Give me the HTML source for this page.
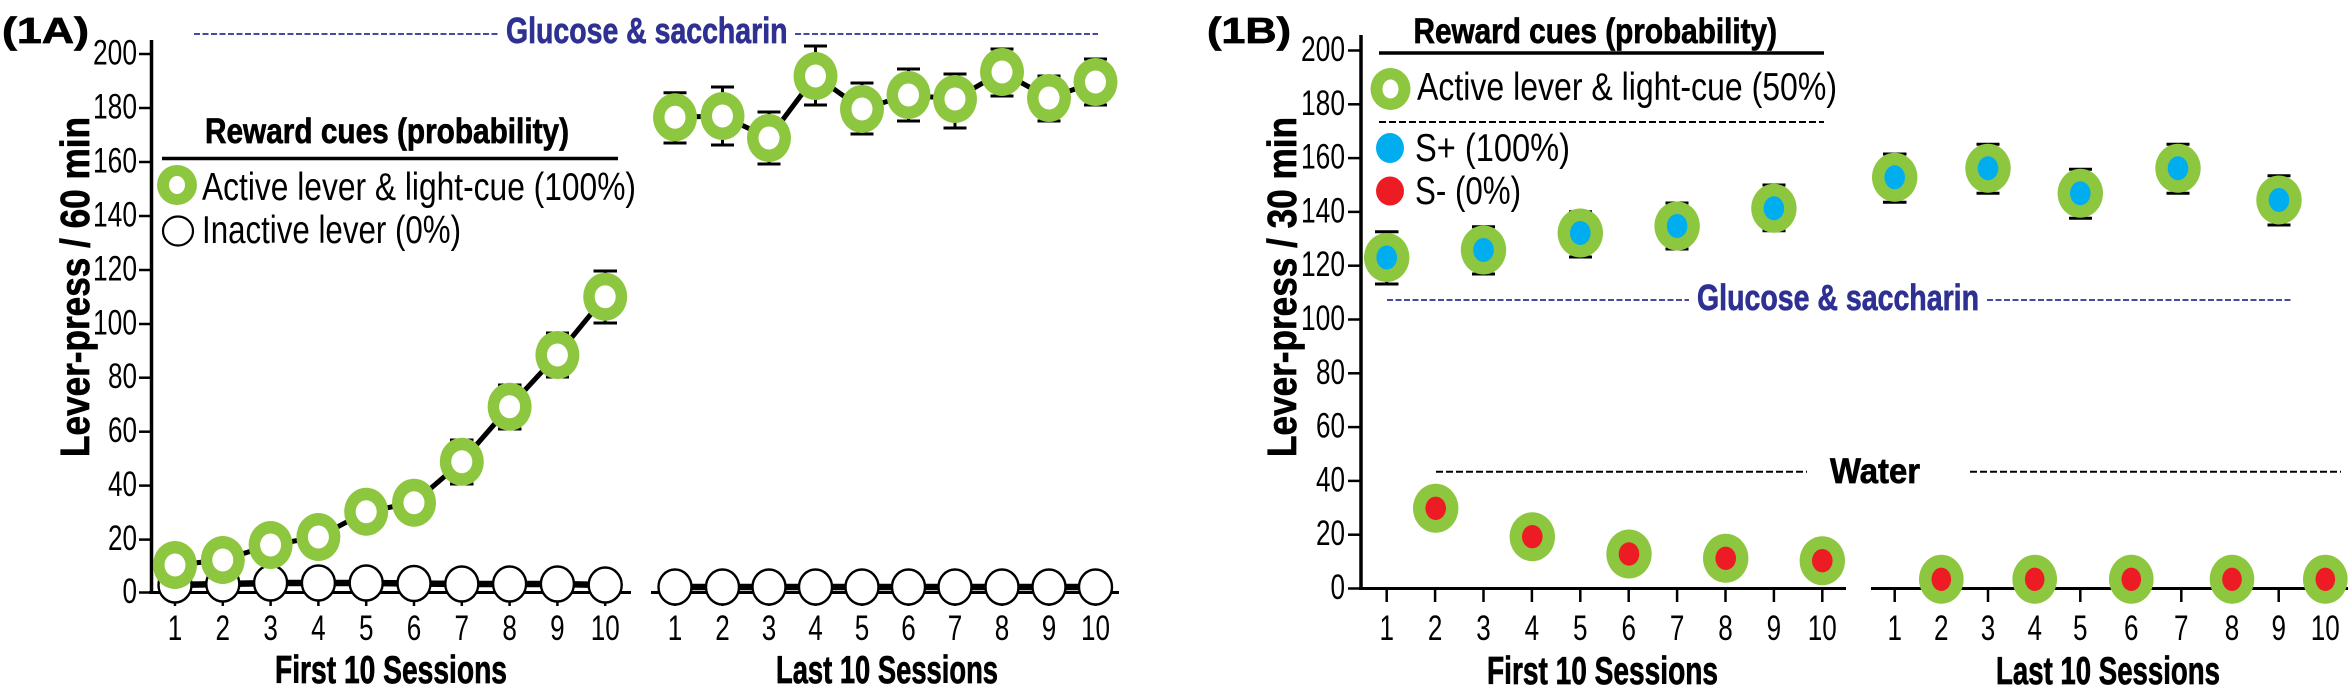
<!DOCTYPE html>
<html><head><meta charset="utf-8"><style>
html,body{margin:0;padding:0;background:#fff;}
svg{display:block;}
text{font-family:"Liberation Sans",sans-serif;fill:#000;}
.b{font-weight:bold;stroke:#000;stroke-width:0.7px;}
.n{font-weight:bold;fill:#2e3192;stroke:#2e3192;stroke-width:0.7px;}
</style></head><body>
<svg width="2348" height="695" viewBox="0 0 2348 695" xmlns="http://www.w3.org/2000/svg">
<rect width="2348" height="695" fill="#fff"/>

<!-- ================= 1A ================= -->
<text class="b" x="2" y="43" font-size="36" textLength="87" lengthAdjust="spacingAndGlyphs">(1A)</text>

<!-- Glucose header -->
<line x1="194" y1="34" x2="499" y2="34" stroke="#2e3192" stroke-width="1.8" stroke-dasharray="6 2.5"/>
<text class="n" x="506" y="43" font-size="36" textLength="281.5" lengthAdjust="spacingAndGlyphs">Glucose &amp; saccharin</text>
<line x1="795" y1="34" x2="1098" y2="34" stroke="#2e3192" stroke-width="1.8" stroke-dasharray="6 2.5"/>

<!-- y axis label -->
<text class="b" font-size="41" text-anchor="middle" transform="translate(89,287) rotate(-90)" textLength="340" lengthAdjust="spacingAndGlyphs">Lever-press / 60 min</text>

<!-- axes -->
<line x1="151.5" y1="40" x2="151.5" y2="594" stroke="#000" stroke-width="3.5"/>
<line x1="149" y1="592.5" x2="631" y2="592.5" stroke="#000" stroke-width="3"/>
<line x1="651" y1="592.5" x2="1119" y2="592.5" stroke="#000" stroke-width="3"/>

<!-- y ticks -->
<g stroke="#000" stroke-width="2.5">
<line x1="139" y1="54" x2="151" y2="54"/>
<line x1="139" y1="108" x2="151" y2="108"/>
<line x1="139" y1="162" x2="151" y2="162"/>
<line x1="139" y1="216" x2="151" y2="216"/>
<line x1="139" y1="270" x2="151" y2="270"/>
<line x1="139" y1="324" x2="151" y2="324"/>
<line x1="139" y1="377.7" x2="151" y2="377.7"/>
<line x1="139" y1="431.7" x2="151" y2="431.7"/>
<line x1="139" y1="485.6" x2="151" y2="485.6"/>
<line x1="139" y1="539.6" x2="151" y2="539.6"/>
<line x1="139" y1="592.5" x2="151" y2="592.5"/>
</g>
<g text-anchor="end" font-size="35">
<text x="137" y="64.5" textLength="44" lengthAdjust="spacingAndGlyphs">200</text>
<text x="137" y="118.5" textLength="44" lengthAdjust="spacingAndGlyphs">180</text>
<text x="137" y="172.5" textLength="44" lengthAdjust="spacingAndGlyphs">160</text>
<text x="137" y="226.5" textLength="44" lengthAdjust="spacingAndGlyphs">140</text>
<text x="137" y="280.5" textLength="44" lengthAdjust="spacingAndGlyphs">120</text>
<text x="137" y="334.5" textLength="44" lengthAdjust="spacingAndGlyphs">100</text>
<text x="137" y="388" textLength="29" lengthAdjust="spacingAndGlyphs">80</text>
<text x="137" y="442" textLength="29" lengthAdjust="spacingAndGlyphs">60</text>
<text x="137" y="496" textLength="29" lengthAdjust="spacingAndGlyphs">40</text>
<text x="137" y="550" textLength="29" lengthAdjust="spacingAndGlyphs">20</text>
<text x="137" y="603" textLength="14.5" lengthAdjust="spacingAndGlyphs">0</text>
</g>

<!-- x ticks 1A -->
<g stroke="#000" stroke-width="2.5">
<line x1="175" y1="592" x2="175" y2="606"/><line x1="222.8" y1="592" x2="222.8" y2="606"/>
<line x1="270.6" y1="592" x2="270.6" y2="606"/><line x1="318.4" y1="592" x2="318.4" y2="606"/>
<line x1="366.2" y1="592" x2="366.2" y2="606"/><line x1="414" y1="592" x2="414" y2="606"/>
<line x1="461.8" y1="592" x2="461.8" y2="606"/><line x1="509.6" y1="592" x2="509.6" y2="606"/>
<line x1="557.4" y1="592" x2="557.4" y2="606"/><line x1="605.2" y1="592" x2="605.2" y2="606"/>
<line x1="675" y1="592" x2="675" y2="606"/><line x1="722.5" y1="592" x2="722.5" y2="606"/>
<line x1="769" y1="592" x2="769" y2="606"/><line x1="815.5" y1="592" x2="815.5" y2="606"/>
<line x1="862" y1="592" x2="862" y2="606"/><line x1="908.5" y1="592" x2="908.5" y2="606"/>
<line x1="955" y1="592" x2="955" y2="606"/><line x1="1002" y1="592" x2="1002" y2="606"/>
<line x1="1049" y1="592" x2="1049" y2="606"/><line x1="1095.5" y1="592" x2="1095.5" y2="606"/>
</g>
<g font-size="35" text-anchor="middle">
<text x="175" y="640" textLength="14.5" lengthAdjust="spacingAndGlyphs">1</text>
<text x="222.8" y="640" textLength="14.5" lengthAdjust="spacingAndGlyphs">2</text>
<text x="270.6" y="640" textLength="14.5" lengthAdjust="spacingAndGlyphs">3</text>
<text x="318.4" y="640" textLength="14.5" lengthAdjust="spacingAndGlyphs">4</text>
<text x="366.2" y="640" textLength="14.5" lengthAdjust="spacingAndGlyphs">5</text>
<text x="414" y="640" textLength="14.5" lengthAdjust="spacingAndGlyphs">6</text>
<text x="461.8" y="640" textLength="14.5" lengthAdjust="spacingAndGlyphs">7</text>
<text x="509.6" y="640" textLength="14.5" lengthAdjust="spacingAndGlyphs">8</text>
<text x="557.4" y="640" textLength="14.5" lengthAdjust="spacingAndGlyphs">9</text>
<text x="605.2" y="640" textLength="29" lengthAdjust="spacingAndGlyphs">10</text>
<text x="675" y="640" textLength="14.5" lengthAdjust="spacingAndGlyphs">1</text>
<text x="722.5" y="640" textLength="14.5" lengthAdjust="spacingAndGlyphs">2</text>
<text x="769" y="640" textLength="14.5" lengthAdjust="spacingAndGlyphs">3</text>
<text x="815.5" y="640" textLength="14.5" lengthAdjust="spacingAndGlyphs">4</text>
<text x="862" y="640" textLength="14.5" lengthAdjust="spacingAndGlyphs">5</text>
<text x="908.5" y="640" textLength="14.5" lengthAdjust="spacingAndGlyphs">6</text>
<text x="955" y="640" textLength="14.5" lengthAdjust="spacingAndGlyphs">7</text>
<text x="1002" y="640" textLength="14.5" lengthAdjust="spacingAndGlyphs">8</text>
<text x="1049" y="640" textLength="14.5" lengthAdjust="spacingAndGlyphs">9</text>
<text x="1095.5" y="640" textLength="29" lengthAdjust="spacingAndGlyphs">10</text>
</g>
<text class="b" x="275" y="683" font-size="38.5" textLength="232" lengthAdjust="spacingAndGlyphs">First 10 Sessions</text>
<text class="b" x="776" y="683" font-size="38.5" textLength="222" lengthAdjust="spacingAndGlyphs">Last 10 Sessions</text>

<!-- inactive lever series -->
<polyline points="175,585 222.8,584 270.6,583 318.4,583 366.2,583 414,583.5 461.8,584 509.6,584 557.4,584 605.2,585" fill="none" stroke="#000" stroke-width="6.5"/>
<polyline points="675,587 722.5,587 769,587 815.5,587 862,587 908.5,587 955,587 1002,587 1049,587 1095.5,587" fill="none" stroke="#000" stroke-width="6.5"/>
<g fill="#fff" stroke="#000" stroke-width="2.4">
<ellipse cx="175" cy="585" rx="16.5" ry="17.5"/><ellipse cx="222.8" cy="584" rx="16.5" ry="17.5"/>
<ellipse cx="270.6" cy="583" rx="16.5" ry="17.5"/><ellipse cx="318.4" cy="583" rx="16.5" ry="17.5"/>
<ellipse cx="366.2" cy="583" rx="16.5" ry="17.5"/><ellipse cx="414" cy="583.5" rx="16.5" ry="17.5"/>
<ellipse cx="461.8" cy="584" rx="16.5" ry="17.5"/><ellipse cx="509.6" cy="584" rx="16.5" ry="17.5"/>
<ellipse cx="557.4" cy="584" rx="16.5" ry="17.5"/><ellipse cx="605.2" cy="585" rx="16.5" ry="17.5"/>
<ellipse cx="675" cy="587" rx="16.5" ry="17.5"/><ellipse cx="722.5" cy="587" rx="16.5" ry="17.5"/>
<ellipse cx="769" cy="587" rx="16.5" ry="17.5"/><ellipse cx="815.5" cy="587" rx="16.5" ry="17.5"/>
<ellipse cx="862" cy="587" rx="16.5" ry="17.5"/><ellipse cx="908.5" cy="587" rx="16.5" ry="17.5"/>
<ellipse cx="955" cy="587" rx="16.5" ry="17.5"/><ellipse cx="1002" cy="587" rx="16.5" ry="17.5"/>
<ellipse cx="1049" cy="587" rx="16.5" ry="17.5"/><ellipse cx="1095.5" cy="587" rx="16.5" ry="17.5"/>
</g>

<!-- active lever series panel 1 -->
<polyline points="175,565 222.8,560 270.6,545 318.4,537 366.2,511.7 414,502.7 461.8,461.7 509.6,406.7 557.4,355 605.2,296.7" fill="none" stroke="#000" stroke-width="5"/>
<g stroke="#000" stroke-width="3">
<line x1="461.8" y1="440" x2="461.8" y2="484"/><line x1="450" y1="440" x2="473.5" y2="440"/><line x1="450" y1="484" x2="473.5" y2="484"/>
<line x1="509.6" y1="385" x2="509.6" y2="429"/><line x1="498" y1="385" x2="521.5" y2="385"/><line x1="498" y1="429" x2="521.5" y2="429"/>
<line x1="557.4" y1="333" x2="557.4" y2="377"/><line x1="546" y1="333" x2="569" y2="333"/><line x1="546" y1="377" x2="569" y2="377"/>
<line x1="605.2" y1="271" x2="605.2" y2="323"/><line x1="593.5" y1="271" x2="617" y2="271"/><line x1="593.5" y1="323" x2="617" y2="323"/>
</g>
<g fill="#8dc63f">
<ellipse cx="175" cy="565" rx="22" ry="24"/><ellipse cx="222.8" cy="560" rx="22" ry="24"/>
<ellipse cx="270.6" cy="545" rx="22" ry="24"/><ellipse cx="318.4" cy="537" rx="22" ry="24"/>
<ellipse cx="366.2" cy="511.7" rx="22" ry="24"/><ellipse cx="414" cy="502.7" rx="22" ry="24"/>
<ellipse cx="461.8" cy="461.7" rx="22" ry="24"/><ellipse cx="509.6" cy="406.7" rx="22" ry="24"/>
<ellipse cx="557.4" cy="355" rx="22" ry="24"/><ellipse cx="605.2" cy="296.7" rx="22" ry="24"/>
</g>
<g fill="#fff">
<ellipse cx="175" cy="565" rx="10.5" ry="11.5"/><ellipse cx="222.8" cy="560" rx="10.5" ry="11.5"/>
<ellipse cx="270.6" cy="545" rx="10.5" ry="11.5"/><ellipse cx="318.4" cy="537" rx="10.5" ry="11.5"/>
<ellipse cx="366.2" cy="511.7" rx="10.5" ry="11.5"/><ellipse cx="414" cy="502.7" rx="10.5" ry="11.5"/>
<ellipse cx="461.8" cy="461.7" rx="10.5" ry="11.5"/><ellipse cx="509.6" cy="406.7" rx="10.5" ry="11.5"/>
<ellipse cx="557.4" cy="355" rx="10.5" ry="11.5"/><ellipse cx="605.2" cy="296.7" rx="10.5" ry="11.5"/>
</g>

<!-- active lever series panel 2 -->
<polyline points="675,117.3 722.5,116 769,138 815.5,76 862,109 908.5,95 955,99 1002,72 1049,98 1095.5,82" fill="none" stroke="#000" stroke-width="5"/>
<g stroke="#000" stroke-width="3">
<line x1="675" y1="92.7" x2="675" y2="143"/><line x1="663.5" y1="92.7" x2="686.5" y2="92.7"/><line x1="663.5" y1="143" x2="686.5" y2="143"/>
<line x1="722.5" y1="87" x2="722.5" y2="145"/><line x1="711" y1="87" x2="734" y2="87"/><line x1="711" y1="145" x2="734" y2="145"/>
<line x1="769" y1="112" x2="769" y2="164"/><line x1="757.5" y1="112" x2="780.5" y2="112"/><line x1="757.5" y1="164" x2="780.5" y2="164"/>
<line x1="815.5" y1="46" x2="815.5" y2="105"/><line x1="804" y1="46" x2="827" y2="46"/><line x1="804" y1="105" x2="827" y2="105"/>
<line x1="862" y1="83" x2="862" y2="134"/><line x1="850.5" y1="83" x2="873.5" y2="83"/><line x1="850.5" y1="134" x2="873.5" y2="134"/>
<line x1="908.5" y1="69" x2="908.5" y2="121"/><line x1="897" y1="69" x2="920" y2="69"/><line x1="897" y1="121" x2="920" y2="121"/>
<line x1="955" y1="74" x2="955" y2="128"/><line x1="943.5" y1="74" x2="966.5" y2="74"/><line x1="943.5" y1="128" x2="966.5" y2="128"/>
<line x1="1002" y1="49" x2="1002" y2="96"/><line x1="990.5" y1="49" x2="1013.5" y2="49"/><line x1="990.5" y1="96" x2="1013.5" y2="96"/>
<line x1="1049" y1="76" x2="1049" y2="121"/><line x1="1037.5" y1="76" x2="1060.5" y2="76"/><line x1="1037.5" y1="121" x2="1060.5" y2="121"/>
<line x1="1095.5" y1="59" x2="1095.5" y2="105"/><line x1="1084" y1="59" x2="1107" y2="59"/><line x1="1084" y1="105" x2="1107" y2="105"/>
</g>
<g fill="#8dc63f">
<ellipse cx="675" cy="117.3" rx="22" ry="24"/><ellipse cx="722.5" cy="116" rx="22" ry="24"/>
<ellipse cx="769" cy="138" rx="22" ry="24"/><ellipse cx="815.5" cy="76" rx="22" ry="24"/>
<ellipse cx="862" cy="109" rx="22" ry="24"/><ellipse cx="908.5" cy="95" rx="22" ry="24"/>
<ellipse cx="955" cy="99" rx="22" ry="24"/><ellipse cx="1002" cy="72" rx="22" ry="24"/>
<ellipse cx="1049" cy="98" rx="22" ry="24"/><ellipse cx="1095.5" cy="82" rx="22" ry="24"/>
</g>
<g fill="#fff">
<ellipse cx="675" cy="117.3" rx="10.5" ry="11.5"/><ellipse cx="722.5" cy="116" rx="10.5" ry="11.5"/>
<ellipse cx="769" cy="138" rx="10.5" ry="11.5"/><ellipse cx="815.5" cy="76" rx="10.5" ry="11.5"/>
<ellipse cx="862" cy="109" rx="10.5" ry="11.5"/><ellipse cx="908.5" cy="95" rx="10.5" ry="11.5"/>
<ellipse cx="955" cy="99" rx="10.5" ry="11.5"/><ellipse cx="1002" cy="72" rx="10.5" ry="11.5"/>
<ellipse cx="1049" cy="98" rx="10.5" ry="11.5"/><ellipse cx="1095.5" cy="82" rx="10.5" ry="11.5"/>
</g>

<!-- 1A legend -->
<text class="b" x="205" y="143" font-size="35" textLength="364" lengthAdjust="spacingAndGlyphs">Reward cues (probability)</text>
<line x1="162" y1="158.5" x2="618" y2="158.5" stroke="#000" stroke-width="3.5"/>
<ellipse cx="177" cy="185" rx="20" ry="20" fill="#8dc63f"/>
<ellipse cx="177" cy="185" rx="8" ry="9" fill="#fff"/>
<text x="202" y="200" font-size="38.5" textLength="434" lengthAdjust="spacingAndGlyphs">Active lever &amp; light-cue (100%)</text>
<ellipse cx="178" cy="231" rx="15" ry="14.5" fill="#fff" stroke="#000" stroke-width="2.2"/>
<text x="202" y="243" font-size="38.5" textLength="259" lengthAdjust="spacingAndGlyphs">Inactive lever (0%)</text>

<!-- ================= 1B ================= -->
<text class="b" x="1207" y="43" font-size="36" textLength="84" lengthAdjust="spacingAndGlyphs">(1B)</text>
<text class="b" font-size="41" text-anchor="middle" transform="translate(1296,287) rotate(-90)" textLength="340" lengthAdjust="spacingAndGlyphs">Lever-press / 30 min</text>

<!-- axes -->
<line x1="1361" y1="35" x2="1361" y2="590" stroke="#000" stroke-width="3.5"/>
<line x1="1359" y1="588.5" x2="1846" y2="588.5" stroke="#000" stroke-width="3"/>
<line x1="1871" y1="588.5" x2="2348" y2="588.5" stroke="#000" stroke-width="3"/>

<g stroke="#000" stroke-width="2.5">
<line x1="1348" y1="50.5" x2="1361" y2="50.5"/>
<line x1="1348" y1="104.3" x2="1361" y2="104.3"/>
<line x1="1348" y1="158.1" x2="1361" y2="158.1"/>
<line x1="1348" y1="211.9" x2="1361" y2="211.9"/>
<line x1="1348" y1="265.7" x2="1361" y2="265.7"/>
<line x1="1348" y1="319.5" x2="1361" y2="319.5"/>
<line x1="1348" y1="373.3" x2="1361" y2="373.3"/>
<line x1="1348" y1="427.1" x2="1361" y2="427.1"/>
<line x1="1348" y1="480.9" x2="1361" y2="480.9"/>
<line x1="1348" y1="534.7" x2="1361" y2="534.7"/>
<line x1="1348" y1="588.5" x2="1361" y2="588.5"/>
</g>
<g font-size="35" text-anchor="end">
<text x="1345" y="61" textLength="44" lengthAdjust="spacingAndGlyphs">200</text>
<text x="1345" y="114.8" textLength="44" lengthAdjust="spacingAndGlyphs">180</text>
<text x="1345" y="168.6" textLength="44" lengthAdjust="spacingAndGlyphs">160</text>
<text x="1345" y="222.4" textLength="44" lengthAdjust="spacingAndGlyphs">140</text>
<text x="1345" y="276.2" textLength="44" lengthAdjust="spacingAndGlyphs">120</text>
<text x="1345" y="330" textLength="44" lengthAdjust="spacingAndGlyphs">100</text>
<text x="1345" y="383.8" textLength="29" lengthAdjust="spacingAndGlyphs">80</text>
<text x="1345" y="437.6" textLength="29" lengthAdjust="spacingAndGlyphs">60</text>
<text x="1345" y="491.4" textLength="29" lengthAdjust="spacingAndGlyphs">40</text>
<text x="1345" y="545.2" textLength="29" lengthAdjust="spacingAndGlyphs">20</text>
<text x="1345" y="599" textLength="14.5" lengthAdjust="spacingAndGlyphs">0</text>
</g>

<g stroke="#000" stroke-width="2.5">
<line x1="1386.7" y1="588" x2="1386.7" y2="602"/><line x1="1435.1" y1="588" x2="1435.1" y2="602"/>
<line x1="1483.5" y1="588" x2="1483.5" y2="602"/><line x1="1531.9" y1="588" x2="1531.9" y2="602"/>
<line x1="1580.3" y1="588" x2="1580.3" y2="602"/><line x1="1628.7" y1="588" x2="1628.7" y2="602"/>
<line x1="1677.1" y1="588" x2="1677.1" y2="602"/><line x1="1725.5" y1="588" x2="1725.5" y2="602"/>
<line x1="1773.9" y1="588" x2="1773.9" y2="602"/><line x1="1822.3" y1="588" x2="1822.3" y2="602"/>
<line x1="1894.7" y1="588" x2="1894.7" y2="602"/><line x1="1941.3" y1="588" x2="1941.3" y2="602"/>
<line x1="1988" y1="588" x2="1988" y2="602"/><line x1="2034.7" y1="588" x2="2034.7" y2="602"/>
<line x1="2080.3" y1="588" x2="2080.3" y2="602"/><line x1="2131.3" y1="588" x2="2131.3" y2="602"/>
<line x1="2181.3" y1="588" x2="2181.3" y2="602"/><line x1="2232" y1="588" x2="2232" y2="602"/>
<line x1="2278.7" y1="588" x2="2278.7" y2="602"/><line x1="2325.3" y1="588" x2="2325.3" y2="602"/>
</g>
<g font-size="35" text-anchor="middle">
<text x="1386.7" y="640" textLength="14.5" lengthAdjust="spacingAndGlyphs">1</text>
<text x="1435.1" y="640" textLength="14.5" lengthAdjust="spacingAndGlyphs">2</text>
<text x="1483.5" y="640" textLength="14.5" lengthAdjust="spacingAndGlyphs">3</text>
<text x="1531.9" y="640" textLength="14.5" lengthAdjust="spacingAndGlyphs">4</text>
<text x="1580.3" y="640" textLength="14.5" lengthAdjust="spacingAndGlyphs">5</text>
<text x="1628.7" y="640" textLength="14.5" lengthAdjust="spacingAndGlyphs">6</text>
<text x="1677.1" y="640" textLength="14.5" lengthAdjust="spacingAndGlyphs">7</text>
<text x="1725.5" y="640" textLength="14.5" lengthAdjust="spacingAndGlyphs">8</text>
<text x="1773.9" y="640" textLength="14.5" lengthAdjust="spacingAndGlyphs">9</text>
<text x="1822.3" y="640" textLength="29" lengthAdjust="spacingAndGlyphs">10</text>
<text x="1894.7" y="640" textLength="14.5" lengthAdjust="spacingAndGlyphs">1</text>
<text x="1941.3" y="640" textLength="14.5" lengthAdjust="spacingAndGlyphs">2</text>
<text x="1988" y="640" textLength="14.5" lengthAdjust="spacingAndGlyphs">3</text>
<text x="2034.7" y="640" textLength="14.5" lengthAdjust="spacingAndGlyphs">4</text>
<text x="2080.3" y="640" textLength="14.5" lengthAdjust="spacingAndGlyphs">5</text>
<text x="2131.3" y="640" textLength="14.5" lengthAdjust="spacingAndGlyphs">6</text>
<text x="2181.3" y="640" textLength="14.5" lengthAdjust="spacingAndGlyphs">7</text>
<text x="2232" y="640" textLength="14.5" lengthAdjust="spacingAndGlyphs">8</text>
<text x="2278.7" y="640" textLength="14.5" lengthAdjust="spacingAndGlyphs">9</text>
<text x="2325.3" y="640" textLength="29" lengthAdjust="spacingAndGlyphs">10</text>
</g>
<text class="b" x="1487" y="684" font-size="38.5" textLength="231" lengthAdjust="spacingAndGlyphs">First 10 Sessions</text>
<text class="b" x="1996" y="684" font-size="38.5" textLength="224" lengthAdjust="spacingAndGlyphs">Last 10 Sessions</text>

<!-- Glucose & saccharin (1B) -->
<line x1="1387" y1="300" x2="1689" y2="300" stroke="#2e3192" stroke-width="1.8" stroke-dasharray="6 2.5"/>
<text class="n" x="1697" y="310" font-size="36" textLength="282" lengthAdjust="spacingAndGlyphs">Glucose &amp; saccharin</text>
<line x1="1987" y1="300" x2="2291" y2="300" stroke="#2e3192" stroke-width="1.8" stroke-dasharray="6 2.5"/>

<!-- Water -->
<line x1="1436" y1="471.7" x2="1807" y2="471.7" stroke="#000" stroke-width="2" stroke-dasharray="7 3"/>
<text class="b" x="1830" y="483" font-size="35" textLength="90" lengthAdjust="spacingAndGlyphs">Water</text>
<line x1="1970" y1="471.7" x2="2341" y2="471.7" stroke="#000" stroke-width="2" stroke-dasharray="7 3"/>

<!-- S+ error bars -->
<g stroke="#000" stroke-width="3">
<line x1="1386.7" y1="231.7" x2="1386.7" y2="284"/><line x1="1375" y1="231.7" x2="1398.5" y2="231.7"/><line x1="1375" y1="284" x2="1398.5" y2="284"/>
<line x1="1483.5" y1="226.7" x2="1483.5" y2="274"/><line x1="1472" y1="226.7" x2="1495" y2="226.7"/><line x1="1472" y1="274" x2="1495" y2="274"/>
<line x1="1580.3" y1="211.7" x2="1580.3" y2="257"/><line x1="1569" y1="211.7" x2="1592" y2="211.7"/><line x1="1569" y1="257" x2="1592" y2="257"/>
<line x1="1677.1" y1="203" x2="1677.1" y2="249"/><line x1="1665.5" y1="203" x2="1688.5" y2="203"/><line x1="1665.5" y1="249" x2="1688.5" y2="249"/>
<line x1="1773.9" y1="185" x2="1773.9" y2="230.7"/><line x1="1762.5" y1="185" x2="1785.5" y2="185"/><line x1="1762.5" y1="230.7" x2="1785.5" y2="230.7"/>
<line x1="1894.7" y1="154" x2="1894.7" y2="202.3"/><line x1="1883" y1="154" x2="1906.5" y2="154"/><line x1="1883" y1="202.3" x2="1906.5" y2="202.3"/>
<line x1="1988" y1="144.3" x2="1988" y2="193.3"/><line x1="1976.5" y1="144.3" x2="1999.5" y2="144.3"/><line x1="1976.5" y1="193.3" x2="1999.5" y2="193.3"/>
<line x1="2080.3" y1="169.3" x2="2080.3" y2="218.3"/><line x1="2069" y1="169.3" x2="2092" y2="169.3"/><line x1="2069" y1="218.3" x2="2092" y2="218.3"/>
<line x1="2178" y1="144.3" x2="2178" y2="193.3"/><line x1="2166.5" y1="144.3" x2="2189.5" y2="144.3"/><line x1="2166.5" y1="193.3" x2="2189.5" y2="193.3"/>
<line x1="2279" y1="175.7" x2="2279" y2="225"/><line x1="2267.5" y1="175.7" x2="2290.5" y2="175.7"/><line x1="2267.5" y1="225" x2="2290.5" y2="225"/>
</g>
<!-- S+ points -->
<g fill="#8dc63f">
<ellipse cx="1386.7" cy="257.5" rx="22.7" ry="24.5"/><ellipse cx="1483.5" cy="250" rx="22.7" ry="24.5"/>
<ellipse cx="1580.3" cy="233" rx="22.7" ry="24.5"/><ellipse cx="1677.1" cy="226" rx="22.7" ry="24.5"/>
<ellipse cx="1773.9" cy="208.3" rx="22.7" ry="24.5"/><ellipse cx="1894.7" cy="177.3" rx="22.7" ry="24.5"/>
<ellipse cx="1988" cy="168.3" rx="22.7" ry="24.5"/><ellipse cx="2080.3" cy="193.3" rx="22.7" ry="24.5"/>
<ellipse cx="2178" cy="168.3" rx="22.7" ry="24.5"/><ellipse cx="2279" cy="200" rx="22.7" ry="24.5"/>
</g>
<g fill="#00aeef">
<ellipse cx="1386.7" cy="257.5" rx="10.3" ry="12"/><ellipse cx="1483.5" cy="250" rx="10.3" ry="12"/>
<ellipse cx="1580.3" cy="233" rx="10.3" ry="12"/><ellipse cx="1677.1" cy="226" rx="10.3" ry="12"/>
<ellipse cx="1773.9" cy="208.3" rx="10.3" ry="12"/><ellipse cx="1894.7" cy="177.3" rx="10.3" ry="12"/>
<ellipse cx="1988" cy="168.3" rx="10.3" ry="12"/><ellipse cx="2080.3" cy="193.3" rx="10.3" ry="12"/>
<ellipse cx="2178" cy="168.3" rx="10.3" ry="12"/><ellipse cx="2279" cy="200" rx="10.3" ry="12"/>
</g>
<!-- S- points -->
<g fill="#8dc63f">
<ellipse cx="1435.7" cy="508.3" rx="22.7" ry="24.5"/><ellipse cx="1532.3" cy="536.7" rx="22.7" ry="24.5"/>
<ellipse cx="1629" cy="554" rx="22.7" ry="24.5"/><ellipse cx="1725.7" cy="558.3" rx="22.7" ry="24.5"/>
<ellipse cx="1822.3" cy="560.7" rx="22.7" ry="24.5"/>
<ellipse cx="1941.3" cy="579.3" rx="22.3" ry="24.5"/><ellipse cx="2034.7" cy="579.3" rx="22.3" ry="24.5"/>
<ellipse cx="2131.3" cy="579.3" rx="22.3" ry="24.5"/><ellipse cx="2232" cy="579.3" rx="22.3" ry="24.5"/>
<ellipse cx="2325.3" cy="579.3" rx="22.3" ry="24.5"/>
</g>
<g fill="#ed1c24">
<ellipse cx="1435.7" cy="508.3" rx="10.3" ry="11.7"/><ellipse cx="1532.3" cy="536.7" rx="10.3" ry="11.7"/>
<ellipse cx="1629" cy="554" rx="10.3" ry="11.7"/><ellipse cx="1725.7" cy="558.3" rx="10.3" ry="11.7"/>
<ellipse cx="1822.3" cy="560.7" rx="10.3" ry="11.7"/>
<ellipse cx="1941.3" cy="579.3" rx="9.8" ry="11.7"/><ellipse cx="2034.7" cy="579.3" rx="9.8" ry="11.7"/>
<ellipse cx="2131.3" cy="579.3" rx="9.8" ry="11.7"/><ellipse cx="2232" cy="579.3" rx="9.8" ry="11.7"/>
<ellipse cx="2325.3" cy="579.3" rx="9.8" ry="11.7"/>
</g>

<!-- 1B legend -->
<text class="b" x="1413.5" y="43" font-size="35" textLength="363.5" lengthAdjust="spacingAndGlyphs">Reward cues (probability)</text>
<line x1="1379" y1="53" x2="1824" y2="53" stroke="#000" stroke-width="3.5"/>
<ellipse cx="1390.5" cy="89" rx="20" ry="21" fill="#8dc63f"/>
<ellipse cx="1390.5" cy="89" rx="8" ry="9.5" fill="#fff"/>
<text x="1417" y="100" font-size="38.5" textLength="420" lengthAdjust="spacingAndGlyphs">Active lever &amp; light-cue (50%)</text>
<line x1="1379" y1="122" x2="1824" y2="122" stroke="#000" stroke-width="2" stroke-dasharray="7 3"/>
<ellipse cx="1390" cy="148" rx="14" ry="15" fill="#00aeef"/>
<text x="1415" y="161" font-size="38.5" textLength="155" lengthAdjust="spacingAndGlyphs">S+ (100%)</text>
<ellipse cx="1390" cy="191" rx="14" ry="14.5" fill="#ed1c24"/>
<text x="1415" y="204" font-size="38.5" textLength="106" lengthAdjust="spacingAndGlyphs">S- (0%)</text>
</svg>
</body></html>
